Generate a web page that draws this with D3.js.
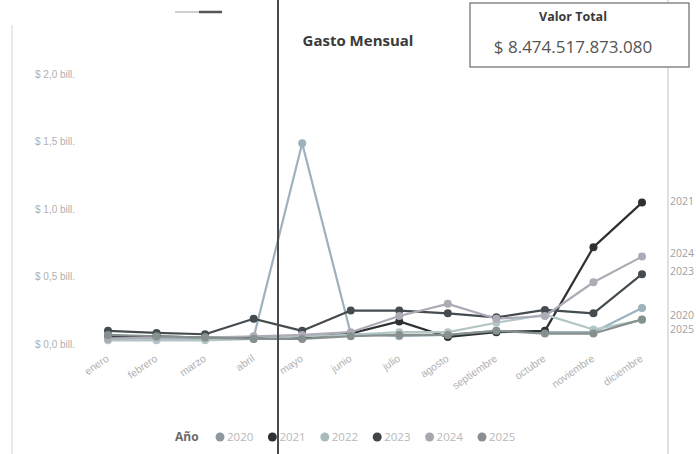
<!DOCTYPE html>
<html><head><meta charset="utf-8">
<script src="https://cdn.jsdelivr.net/npm/d3@7"></script>
<style>
html,body{margin:0;padding:0;background:#fff;}
svg{display:block;font-family:"Segoe UI","Open Sans","Noto Sans",sans-serif;}
</style></head>
<body><svg id="c" width="696" height="454"></svg>
<script>
const months = ["enero","febrero","marzo","abril","mayo","junio","julio","agosto","septiembre","octubre","noviembre","diciembre"];
const years = ["2020","2021","2022","2023","2024","2025"];
// values in billones (10^12 pesos)
const v2020 = [0.04,0.03,0.03,0.04,1.48,0.07,0.05,0.06,0.09,0.08,0.08,0.26];
const v2021 = [0.05,0.05,0.04,0.04,0.04,0.07,0.16,0.045,0.08,0.09,0.71,1.04];
const v2022 = [0.02,0.02,0.02,0.03,0.05,0.06,0.08,0.08,0.15,0.21,0.10,0.17];
const v2023 = [0.09,0.075,0.065,0.18,0.09,0.24,0.24,0.22,0.19,0.245,0.22,0.51];
const v2024 = [0.03,0.04,0.04,0.05,0.06,0.08,0.20,0.29,0.18,0.20,0.45,0.64];
const v2025 = [0.06,0.05,0.04,0.03,0.03,0.05,0.06,0.06,0.09,0.07,0.07,0.175];
const yTicks = [0,0.5,1.0,1.5,2.0];
const endLabelYears = ["2021","2024","2023","2020","2025"];
const title = "Gasto Mensual";
const cardTitle = "Valor Total";
const cardValue = "$ 8.474.517.873.080";
const legendTitle = "Año";

const seriesValues = [v2020,v2021,v2022,v2023,v2024,v2025];
const colors = {"2020":"#9db2bc","2021":"#2e3133","2022":"#b3c6c6","2023":"#454c50","2024":"#adabb6","2025":"#86908f"};
const legendColors = {"2020":"#8f979f","2021":"#2e3133","2022":"#a9bcbc","2023":"#3f4548","2024":"#a7a7ad","2025":"#8a9090"};

const series = years.map((y,i)=>({year:y, values: seriesValues[i].map((v,j)=>({m:months[j], v}))}));

const svg = d3.select("#c");

// frame lines (left and right borders of the visual)
svg.append("line").attr("x1",12).attr("x2",12).attr("y1",25).attr("y2",454).attr("stroke","#e3e3e3").attr("stroke-width",1.5);
svg.append("line").attr("x1",668).attr("x2",668).attr("y1",0).attr("y2",454).attr("stroke","#d6d6d6").attr("stroke-width",1.5);

// top-left small toggle mark
svg.append("line").attr("x1",175).attr("x2",200).attr("y1",12).attr("y2",12).attr("stroke","#d0d0d0").attr("stroke-width",2);
svg.append("line").attr("x1",199).attr("x2",222).attr("y1",12).attr("y2",12).attr("stroke","#555").attr("stroke-width",2.5);

const x = d3.scalePoint().domain(months).range([108,642]);
const y = d3.scaleLinear().domain([0,2.0]).range([343,73]);

// y axis
const fmt = d => "$ " + d.toFixed(1).replace(".",",") + " bill.";
const yAxis = svg.append("g").attr("transform","translate(35,0)")
  .call(d3.axisRight(y).tickValues(yTicks).tickFormat(fmt).tickSize(0).tickPadding(0));
yAxis.select(".domain").remove();
yAxis.selectAll("text").attr("fill","#b0b0b0").attr("font-size",10).attr("dy","0.4em");

// x axis
const xAxis = svg.append("g").attr("transform","translate(0,354)")
  .call(d3.axisBottom(x).tickSize(0).tickPadding(0));
xAxis.select(".domain").remove();
xAxis.selectAll("text").attr("fill","#b0b0b0").attr("font-size",10.5)
  .attr("text-anchor","end").attr("dy","0.7em")
  .attr("transform","translate(-3,0) rotate(-35)");

// lines
const line = d3.line().x(d=>x(d.m)).y(d=>y(d.v));
const g = svg.append("g");
series.forEach(s=>{
  g.append("path").datum(s.values).attr("d",line).attr("fill","none")
    .attr("stroke",colors[s.year]).attr("stroke-width",2.2).attr("stroke-linejoin","round");
});
series.forEach(s=>{
  g.selectAll(null).data(s.values).enter().append("circle")
    .attr("cx",d=>x(d.m)).attr("cy",d=>y(d.v)).attr("r",4)
    .attr("fill",colors[s.year]);
});

// end labels
const labelShift = {"2021":-1,"2024":-3,"2023":-3,"2020":7,"2025":10};
series.filter(s=>endLabelYears.includes(s.year)).forEach(s=>{
  const last = s.values[s.values.length-1];
  const yy = y(last.v) + labelShift[s.year];
  svg.append("text").attr("x",670).attr("y",yy).attr("dy","0.35em")
    .attr("font-size",10.5).attr("fill","#a0a0a0").text(s.year);
});

// title
svg.append("text").attr("x",358).attr("y",46).attr("text-anchor","middle")
  .attr("font-size",15).attr("font-weight","bold").attr("fill","#3a3a3a").text(title);

// card
svg.append("rect").attr("x",470).attr("y",3).attr("width",219).attr("height",64)
  .attr("fill","#fff").attr("stroke","#6a6a6a").attr("stroke-width",1.2);
svg.append("text").attr("x",573).attr("y",21).attr("text-anchor","middle")
  .attr("font-size",12.5).attr("font-weight","bold").attr("fill","#3a3a3a").text(cardTitle);
svg.append("text").attr("x",573).attr("y",53).attr("text-anchor","middle")
  .attr("font-size",17).attr("fill","#555").text(cardValue);

// legend
const lg = svg.append("g").attr("transform","translate(0,437)");
lg.append("text").attr("x",175).attr("y",0).attr("dy","0.35em").attr("font-size",12)
  .attr("font-weight","bold").attr("fill","#6a6a6a").text(legendTitle);
const lx = d3.scalePoint().domain(years).range([220,482]);
years.forEach(yr=>{
  lg.append("circle").attr("cx",lx(yr)).attr("cy",0).attr("r",4.5).attr("fill",legendColors[yr]);
  lg.append("text").attr("x",lx(yr)+7).attr("y",0).attr("dy","0.35em").attr("font-size",11.5)
    .attr("fill","#b8b8b8").text(yr);
});

// vertical separator line across the picture
svg.append("line").attr("x1",278).attr("x2",278).attr("y1",0).attr("y2",454)
  .attr("stroke","#4a4a4a").attr("stroke-width",2);
</script>
</body></html>
